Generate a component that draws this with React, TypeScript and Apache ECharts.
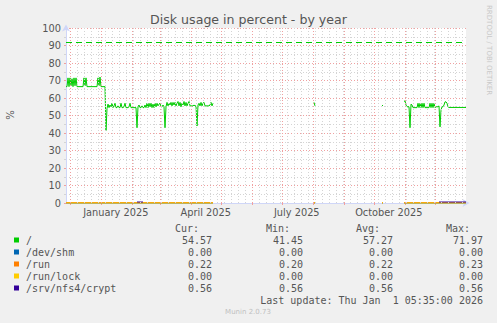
import React, { useEffect, useRef } from 'react';
import * as echarts from 'echarts';

const DAY = 86400000;
const START_MS = Date.UTC(2024, 10, 27, 5, 35); // 400 days before last update
const SPAN_DAYS = 400;

// "/" usage (%), one value per day, in segments (start day + values)
const rootSeg1Start = 0;
const rootSeg1 = [
  66.5, 66.5, 71.5, 66.5, 71.5, 67.0, 71.0, 66.5, 71.5, 67.0,
  71.5, 66.5, 66.5, 66.5, 66.5, 66.5, 66.5, 66.5, 71.5, 67.0,
  71.5, 66.5, 66.5, 66.5, 66.5, 66.5, 66.5, 66.5, 66.5, 66.5,
  66.5, 66.5, 71.5, 67.0, 71.97, 66.5, 66.5, 66.5, 66.5, 66.5,
  41.45, 54.0, 56.5, 54.5, 56.0, 55.0, 57.0, 54.5, 55.5, 57.0,
  54.5, 54.5, 55.5, 54.5, 54.5, 57.0, 54.5, 54.5, 55.0, 57.0,
  54.5, 54.5, 54.5, 55.0, 57.0, 54.5, 54.5, 54.5, 54.5, 54.5,
  54.5, 43.0, 55.0, 56.0, 54.5, 54.5, 55.5, 54.5, 54.5, 56.0,
  54.5, 57.0, 54.5, 57.0, 55.0, 57.0, 54.5, 56.5, 54.5, 57.0,
  55.0, 57.0, 55.5, 56.5, 57.0, 55.0, 55.0, 56.0, 55.0, 43.0,
  55.0, 57.5, 55.5, 57.0, 56.0, 57.5, 55.5, 57.5, 56.0, 57.5,
  55.5, 57.0, 58.0, 55.5, 57.5, 55.0, 57.0, 56.0, 58.0, 55.5,
  57.5, 55.5, 57.0, 58.0, 55.5, 55.5, 55.5, 55.5, 56.0, 55.5,
  55.5, 44.0, 56.0, 57.0, 55.5, 57.5, 55.5, 57.0, 57.5, 55.5,
  55.5, 55.5, 55.5, 55.5, 56.0, 57.5, 55.5, 57.0,
];
const rootSeg2Start = 248;
const rootSeg2 = [57.5, 55.5];
const rootSeg3Start = 316;
const rootSeg3 = [55.7, 55.7];
const rootSeg4Start = 338;
const rootSeg4 = [
  58.0, 58.4, 56.0, 55.0, 55.0, 55.0, 43.0, 56.5, 56.0, 54.5,
  54.5, 54.5, 54.5, 54.5, 57.0, 54.5, 57.0, 54.5, 57.0, 54.5,
  57.0, 54.5, 54.5, 54.5, 54.5, 54.5, 57.0, 54.5, 57.0, 54.5,
  57.0, 54.5, 55.0, 55.0, 55.0, 55.5, 43.5, 53.0, 55.0, 55.0,
  56.0, 57.8, 57.8, 57.0, 55.0, 54.6, 54.6, 54.6, 54.6, 54.6,
  54.6, 54.6, 54.6, 54.6, 54.6, 54.6, 54.6, 54.6, 54.6, 54.6,
  54.6, 54.6, 54.57,
];

// day ranges where the small filesystems have data
const smallRanges: [number, number][] = [[0, 147], [248, 249], [316, 317], [338, 400]];
const cryptRanges: [number, number][] = [[71, 77], [373, 400]];
const shmValue = 0.0;
const runValue = 0.22;
const lockValue = 0.0;
const cryptValue = 0.56;
const warningLevel = 92;

// legend
const legendNames = ['/', '/dev/shm', '/run', '/run/lock', '/srv/nfs4/crypt'];
const legendColors = ['#00cc00', '#0066b3', '#ff8000', '#ffcc00', '#330099'];
const curVals = ['54.57', '0.00', '0.22', '0.00', '0.56'];
const minVals = ['41.45', '0.00', '0.20', '0.00', '0.56'];
const avgVals = ['57.27', '0.00', '0.22', '0.00', '0.56'];
const maxVals = ['71.97', '0.00', '0.23', '0.00', '0.56'];
const headers = ['Cur:', 'Min:', 'Avg:', 'Max:'];

// x labels (every 3 months, centred in the month)
const labelMonths: [number, number][] = [[2025, 0], [2025, 3], [2025, 6], [2025, 9]];
const labelTexts = ['January 2025', 'April 2025', 'July 2025', 'October 2025'];

const dayOf = (ms: number) => (ms - START_MS) / DAY;

function buildRoot() {
  const arr: (number | null)[] = new Array(SPAN_DAYS + 1).fill(null);
  const segs: [number, number[]][] = [
    [rootSeg1Start, rootSeg1], [rootSeg2Start, rootSeg2],
    [rootSeg3Start, rootSeg3], [rootSeg4Start, rootSeg4],
  ];
  segs.forEach(([s, vals]) => vals.forEach((v, i) => { arr[s + i] = v; }));
  return arr.map((v, i) => [i, v === null ? '-' : v]);
}

function buildFlat(ranges: [number, number][], v: number) {
  const out: any[] = [];
  ranges.forEach(([a, b]) => {
    out.push([a, v]);
    out.push([b, v]);
    out.push([b, '-']);
  });
  return out;
}

function monthStarts() {
  const res: number[] = [];
  for (let y = 2024, m = 11; y < 2026; m++) {
    if (m > 11) { m = 0; y++; }
    if (y >= 2026) break;
    res.push(dayOf(Date.UTC(y, m, 1)));
  }
  return res;
}

function weekLines() {
  const res: number[] = [];
  let t = Date.UTC(2024, 11, 1);
  while (dayOf(t) < SPAN_DAYS) { res.push(dayOf(t)); t += 7 * DAY; }
  return res;
}

export default function App() {
  const ref = useRef<HTMLDivElement>(null);
  useEffect(() => {
    const chart = echarts.init(ref.current!, null, { renderer: 'svg' });
    const months = monthStarts();
    const weeks = weekLines();
    const labelPos = labelMonths.map(([y, m]) => dayOf(Date.UTC(y, m, 1)) + 15);
    const textColor = '#555';
    const mono = '"DejaVu Sans Mono", monospace';
    const graphic: any[] = [];
    graphic.push({ type: 'text', x: 248.5, y: 19.5, style: { text: 'Disk usage in percent - by year', fontSize: 12.6, fontFamily: 'DejaVu Sans', fill: textColor, align: 'center', verticalAlign: 'middle' } });
    graphic.push({ type: 'text', x: 10, y: 115, rotation: Math.PI / 2, style: { text: '%', fontSize: 10, fontFamily: 'DejaVu Sans', fill: textColor, align: 'center', verticalAlign: 'middle' } });
    graphic.push({ type: 'text', x: 488.5, y: 5, rotation: -Math.PI / 2, style: { text: 'RRDTOOL / TOBI OETIKER', fontSize: 7, fontFamily: 'DejaVu Sans', fill: '#c8c8c8', align: 'left', verticalAlign: 'middle' } });
    const headerRight = [199, 290, 380, 470];
    const valRight = [212, 303, 393, 483];
    headers.forEach((h, i) => graphic.push({ type: 'text', x: headerRight[i], y: 228, style: { text: h, font: `10px ${mono}`, fill: textColor, align: 'right', verticalAlign: 'middle' } }));
    legendNames.forEach((n, r) => {
      const y = 240 + 12 * r;
      graphic.push({ type: 'rect', shape: { x: 14, y: y - 2.5, width: 5, height: 5 }, style: { fill: legendColors[r] } });
      graphic.push({ type: 'text', x: 26, y, style: { text: n, font: `10px ${mono}`, fill: textColor, align: 'left', verticalAlign: 'middle' } });
      [curVals, minVals, avgVals, maxVals].forEach((col, c) => graphic.push({ type: 'text', x: valRight[c], y, style: { text: col[r], font: `10px ${mono}`, fill: textColor, align: 'right', verticalAlign: 'middle' } }));
    });
    graphic.push({ type: 'text', x: 483, y: 300, style: { text: 'Last update: Thu Jan  1 05:35:00 2026', font: `10px ${mono}`, fill: textColor, align: 'right', verticalAlign: 'middle' } });
    graphic.push({ type: 'text', x: 248, y: 312, style: { text: 'Munin 2.0.73', fontSize: 7, fontFamily: 'DejaVu Sans', fill: '#c0c0c0', align: 'center', verticalAlign: 'middle' } });

    const gridLineData: any[] = [
      ...weeks.map((v) => ({ xAxis: v, lineStyle: { color: '#d4d4d4', type: [1, 2], width: 1 } })),
      ...months.map((v) => ({ xAxis: v, lineStyle: { color: '#f0a0a0', type: [1, 2], width: 1 } })),
      { yAxis: warningLevel, lineStyle: { color: '#00cc00', type: [6, 4], width: 1.2 } },
    ];

    const lineBase = { type: 'line', showSymbol: false, symbol: 'none', clip: false, animation: false, silent: true, connectNulls: false };

    chart.setOption({
      animation: false,
      backgroundColor: '#f0f0f0',
      textStyle: { fontFamily: 'DejaVu Sans' },
      graphic,
      grid: { left: 66, top: 28, width: 400, height: 175, show: true, backgroundColor: '#ffffff', borderWidth: 0 },
      xAxis: {
        type: 'value', min: 0, max: SPAN_DAYS,
        axisLine: { show: true, lineStyle: { color: '#CFD6F8', width: 1 }, symbol: ['none', 'arrow'], symbolSize: [6, 7], symbolOffset: [0, 3.5] },
        axisTick: { show: true, customValues: months, length: 2, inside: false, lineStyle: { color: '#f0a0a0' } },
        axisLabel: {
          show: true, customValues: labelPos, margin: 4, fontSize: 9.8, color: textColor, fontFamily: 'DejaVu Sans',
          formatter: (v: number) => { const i = labelPos.findIndex((p) => Math.abs(p - v) < 0.01); return i >= 0 ? labelTexts[i] : ''; },
        },
        splitLine: { show: false },
      },
      yAxis: {
        type: 'value', min: 0, max: 100, interval: 10,
        axisLine: { show: true, lineStyle: { color: '#CFD6F8', width: 1 }, symbol: ['none', 'arrow'], symbolSize: [6, 7], symbolOffset: [0, 3.5] },
        axisTick: { show: true, length: 2, lineStyle: { color: '#f0a0a0' } },
        minorTick: { show: true, splitNumber: 2, length: 2, lineStyle: { color: '#d4d4d4' } },
        axisLabel: { fontSize: 9.8, color: textColor, margin: 5, fontFamily: 'DejaVu Sans' },
        splitLine: { show: true, lineStyle: { color: '#f0a0a0', type: [1, 2], width: 1 } },
        minorSplitLine: { show: true, lineStyle: { color: '#d4d4d4', type: [1, 2], width: 1 } },
      },
      series: [
        { ...lineBase, name: 'grid', data: [], markLine: { silent: true, symbol: ['none', 'none'], label: { show: false }, animation: false, data: gridLineData } },
        { ...lineBase, name: legendNames[0], data: buildRoot(), lineStyle: { color: legendColors[0], width: 1 } },
        { ...lineBase, name: legendNames[1], data: buildFlat(smallRanges, shmValue), lineStyle: { color: legendColors[1], width: 1 } },
        { ...lineBase, name: legendNames[2], data: buildFlat(smallRanges, runValue), lineStyle: { color: legendColors[2], width: 1 } },
        { ...lineBase, name: legendNames[3], data: buildFlat(smallRanges, lockValue), lineStyle: { color: legendColors[3], width: 1 } },
        { ...lineBase, name: legendNames[4], data: buildFlat(cryptRanges, cryptValue), lineStyle: { color: legendColors[4], width: 1.2 } },
      ],
    });
    return () => chart.dispose();
  }, []);
  return <div ref={ref} style={{ position: 'fixed', left: 0, top: 0, width: 497, height: 323 }} />;
}
